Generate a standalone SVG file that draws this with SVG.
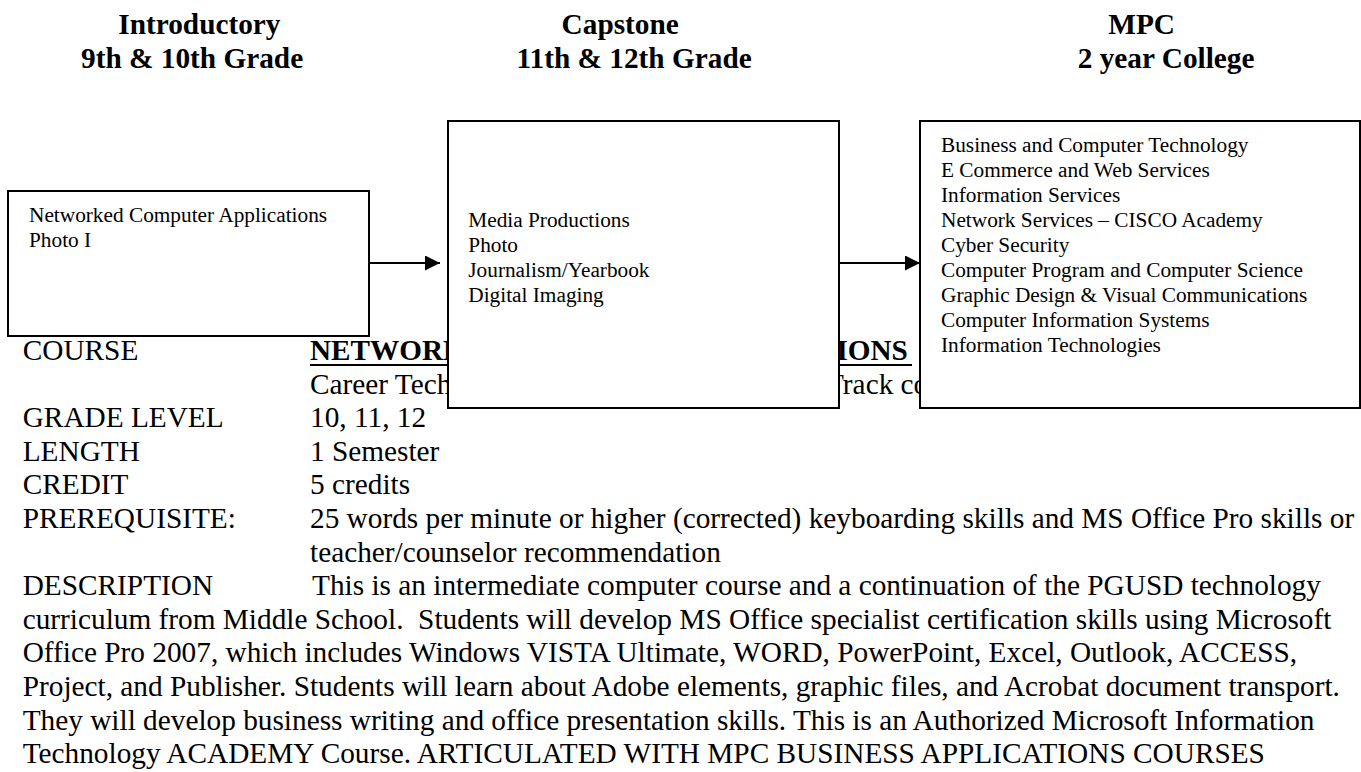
<svg xmlns="http://www.w3.org/2000/svg" width="1361" height="772" viewBox="0 0 1361 772">
<style>
.hdr{font-family:"Liberation Serif","Times New Roman",serif;font-weight:bold;font-size:29.3px;fill:#000}
.body{font-family:"Liberation Serif","Times New Roman",serif;font-size:29.3px;fill:#000}
.ttl{font-family:"Liberation Serif","Times New Roman",serif;font-size:29.2px;font-weight:bold;fill:#000}
.box{fill:#fff;stroke:#000;stroke-width:2}
.bt{font-family:"Liberation Serif","Times New Roman",serif;font-size:21.3px;fill:#000}
.conn{stroke:#000;stroke-width:2;fill:none}
</style>
<defs>
<marker id="ah" viewBox="0 0 15 15" markerWidth="15" markerHeight="15" refX="15" refY="7.5" orient="auto" markerUnits="userSpaceOnUse">
<path d="M0,0 L15,7.5 L0,15 z" fill="#000"/>
</marker>
</defs>
<rect width="1361" height="772" fill="#fff"/>
<g id="headers">
<text class="hdr" x="118.3" y="33.5">Introductory</text>
<text class="hdr" x="81" y="67.5">9th &amp; 10th Grade</text>
<text class="hdr" x="561.6" y="33.5">Capstone</text>
<text class="hdr" x="516.5" y="67.5">11th &amp; 12th Grade</text>
<text class="hdr" x="1108.3" y="33.5">MPC</text>
<text class="hdr" x="1077.7" y="67.5">2 year College</text>
</g>
<g id="course-text">
<text class="body" x="22.7" y="360">COURSE</text>
<text class="ttl" x="310" y="360">NETWORKED COMPUTER APPLICATIONS</text>
<line x1="310" y1="365" x2="912" y2="365" stroke="#000" stroke-width="2"/>
<text class="body" x="310" y="393.6">Career Tech</text>
<text class="body" x="826" y="393.6">Track co</text>
<text class="body" x="22.7" y="427.2">GRADE LEVEL</text>
<text class="body" x="310" y="427.2">10, 11, 12</text>
<text class="body" x="22.7" y="460.8">LENGTH</text>
<text class="body" x="310" y="460.8">1 Semester</text>
<text class="body" x="22.7" y="494.4">CREDIT</text>
<text class="body" x="310" y="494.4">5 credits</text>
<text class="body" x="22.7" y="528">PREREQUISITE:</text>
<text class="body" x="310" y="528">25 words per minute or higher (corrected) keyboarding skills and MS Office Pro skills or</text>
<text class="body" x="310" y="561.6">teacher/counselor recommendation</text>
<text class="body" x="22.7" y="595.2">DESCRIPTION</text>
<text class="body" x="312" y="595.2">This is an intermediate computer course and a continuation of the PGUSD technology</text>
<text class="body" x="22.7" y="628.8" xml:space="preserve">curriculum from Middle School.  Students will develop MS Office specialist certification skills using Microsoft</text>
<text class="body" x="22.7" y="662.4">Office Pro 2007, which includes Windows VISTA Ultimate, WORD, PowerPoint, Excel, Outlook, ACCESS,</text>
<text class="body" x="22.7" y="696">Project, and Publisher. Students will learn about Adobe elements, graphic files, and Acrobat document transport.</text>
<text class="body" x="22.7" y="729.6">They will develop business writing and office presentation skills. This is an Authorized Microsoft Information</text>
<text class="body" x="22.7" y="763.2">Technology ACADEMY Course. ARTICULATED WITH MPC BUSINESS APPLICATIONS COURSES</text>
</g>
<g id="connectors">
<line class="conn" x1="369" y1="263" x2="440" y2="263" marker-end="url(#ah)"/>
<line class="conn" x1="839" y1="263" x2="920" y2="263" marker-end="url(#ah)"/>
</g>
<g id="node-introductory">
<rect class="box" x="8" y="191" width="361" height="145"/>
<text class="bt" x="29" y="222">Networked Computer Applications</text>
<text class="bt" x="29" y="247">Photo I</text>
</g>
<g id="node-capstone">
<rect class="box" x="448" y="121" width="391" height="287"/>
<text class="bt" x="468.3" y="226.7">Media Productions</text>
<text class="bt" x="468.3" y="251.7">Photo</text>
<text class="bt" x="468.3" y="276.7">Journalism/Yearbook</text>
<text class="bt" x="468.3" y="301.7">Digital Imaging</text>
</g>
<g id="node-mpc">
<rect class="box" x="920" y="121" width="440" height="287"/>
<text class="bt" x="941" y="151.7">Business and Computer Technology</text>
<text class="bt" x="941" y="176.7">E Commerce and Web Services</text>
<text class="bt" x="941" y="201.7">Information Services</text>
<text class="bt" x="941" y="226.7">Network Services – CISCO Academy</text>
<text class="bt" x="941" y="251.7">Cyber Security</text>
<text class="bt" x="941" y="276.7">Computer Program and Computer Science</text>
<text class="bt" x="941" y="301.7">Graphic Design &amp; Visual Communications</text>
<text class="bt" x="941" y="326.7">Computer Information Systems</text>
<text class="bt" x="941" y="351.7">Information Technologies</text>
</g>
</svg>
